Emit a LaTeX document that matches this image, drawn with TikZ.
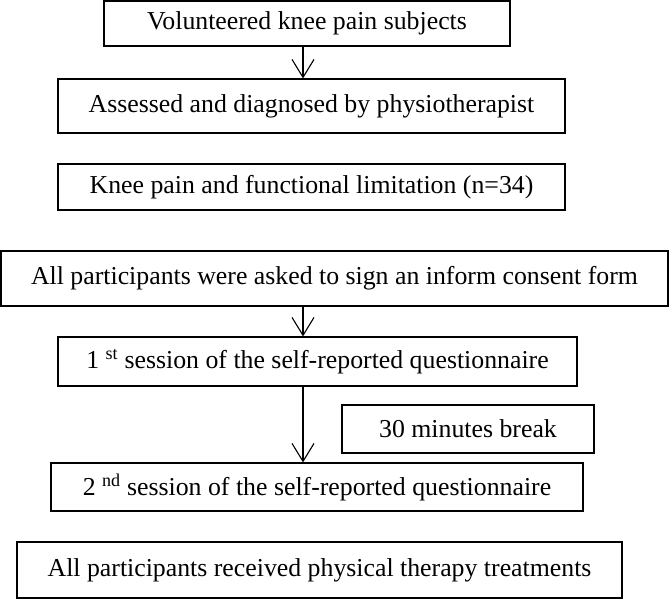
\documentclass[tikz,border=0pt]{standalone}
\usepackage{fontspec}
\setmainfont{Liberation Serif}
\usetikzlibrary{arrows.meta}
\begin{document}
\begin{tikzpicture}[x=1pt,y=-1pt,
  box/.style={draw, line width=1.1pt, inner sep=0pt, font=\fontsize{25.8}{30}\selectfont},
  arr/.style={-{Straight Barb[length=18pt,width=22pt]}, line width=1.1pt}]
\useasboundingbox (0,0) rectangle (669,599);
\node[box, minimum width=406pt, minimum height=45pt] (b1) at (307,23.5) {Volunteered knee pain subjects};
\node[box, minimum width=507pt, minimum height=54pt] (b2) at (311.5,106) {Assessed and diagnosed by physiotherapist};
\node[box, minimum width=507pt, minimum height=46pt] (b3) at (311.5,187) {Knee pain and functional limitation (n=34)};
\node[box, minimum width=667pt, minimum height=55pt] (b4) at (334.5,278.5) {All participants were asked to sign an inform consent form};
\node[box, minimum width=519pt, minimum height=49pt] (b5) at (317.5,361.5) {1 \textsuperscript{st} session of the self-reported questionnaire};
\node[box, minimum width=252pt, minimum height=48pt] (br) at (468,429) {30 minutes break};
\node[box, minimum width=532pt, minimum height=48pt] (b6) at (317,487) {2 \textsuperscript{nd} session of the self-reported questionnaire};
\node[box, minimum width=605pt, minimum height=56pt] (b7) at (319.5,570) {All participants received physical therapy treatments};
\coordinate (ax) at (303,0);
\draw[arr] (b1.south -| ax) -- (b2.north -| ax);
\draw[arr] (b4.south -| ax) -- (b5.north -| ax);
\draw[arr] (b5.south -| ax) -- (b6.north -| ax);
\end{tikzpicture}
\end{document}
